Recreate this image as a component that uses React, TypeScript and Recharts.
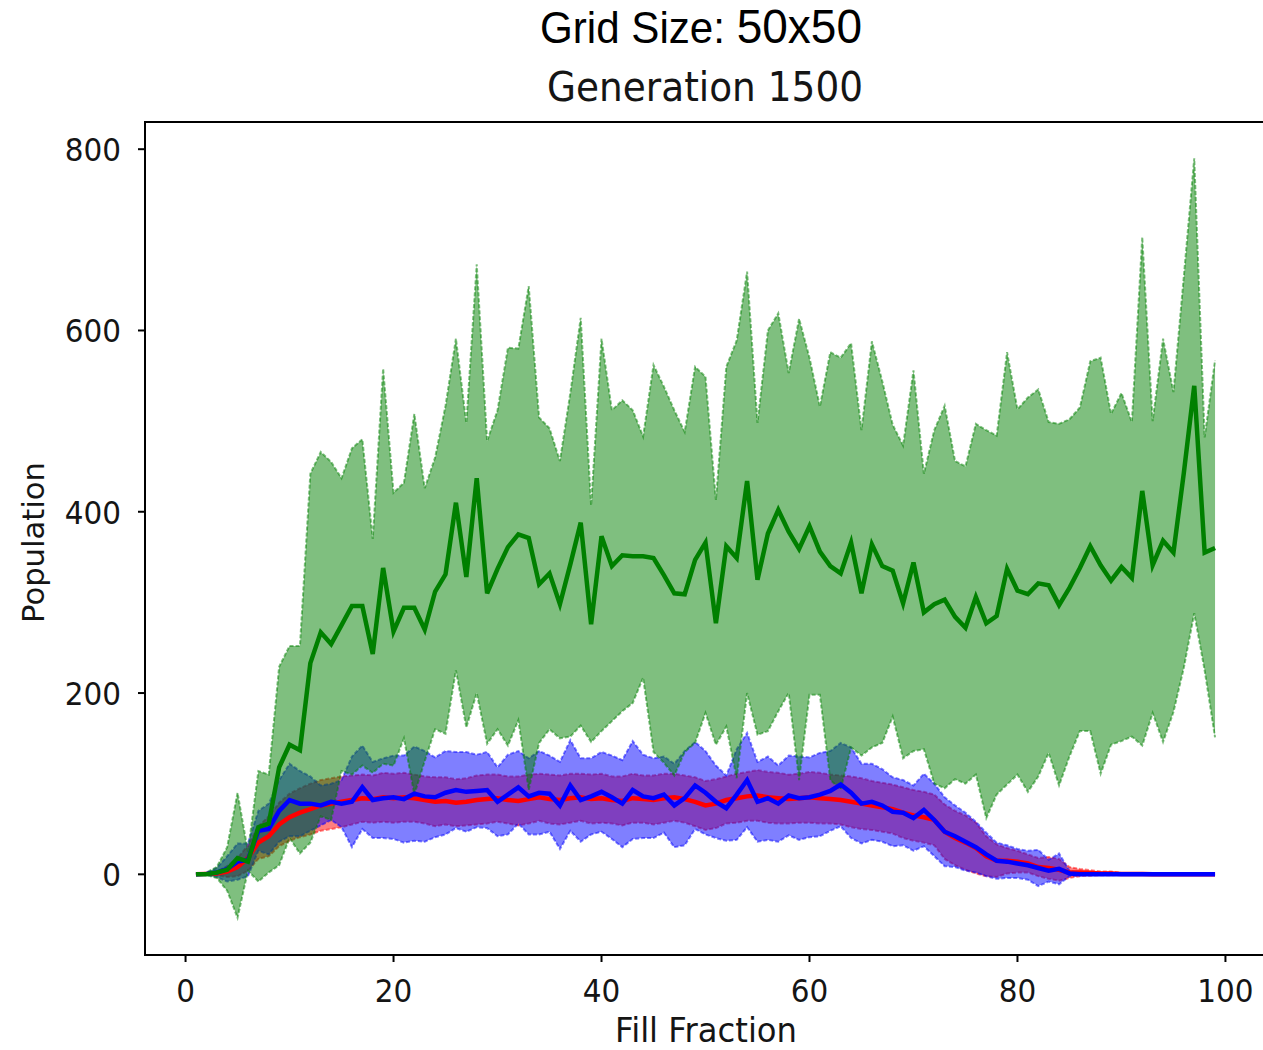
import React from 'react';
import { ComposedChart, Area, Line, XAxis, YAxis, ReferenceArea } from 'recharts';

// fill fraction (x) values
const FILL_FRACTION = [
  1, 2, 3, 4, 5, 6, 7, 8, 9, 10, 11, 12, 13, 14, 15, 16, 17, 18, 19, 20,
  21, 22, 23, 24, 25, 26, 27, 28, 29, 30, 31, 32, 33, 34, 35, 36, 37, 38, 39, 40,
  41, 42, 43, 44, 45, 46, 47, 48, 49, 50, 51, 52, 53, 54, 55, 56, 57, 58, 59, 60,
  61, 62, 63, 64, 65, 66, 67, 68, 69, 70, 71, 72, 73, 74, 75, 76, 77, 78, 79, 80,
  81, 82, 83, 84, 85, 86, 87, 88, 89, 90, 91, 92, 93, 94, 95, 96, 97, 98, 99,
];

const GREEN_MEAN = [
  0, 0, 2, 5, 18, 14, 52, 56, 118, 143,
  137, 233, 267, 254, 275, 296, 296, 243, 338, 268,
  294, 294, 270, 312, 331, 410, 328, 437, 310, 337,
  361, 375, 371, 320, 332, 298, 342, 388, 276, 373,
  340, 352, 351, 351, 349, 330, 310, 309, 347, 366,
  277, 362, 349, 434, 325, 376, 402, 378, 359, 384,
  356, 340, 332, 366, 310, 364, 340, 335, 299, 344,
  289, 298, 303, 284, 272, 306, 277, 285, 337, 313,
  309, 321, 319, 297, 316, 338, 362, 341, 324, 339,
  327, 423, 341, 368, 355, 443, 539, 355, 360,
];

const GREEN_UPPER = [
  0, 2, 8, 30, 90, 25, 114, 110, 229, 252,
  252, 442, 466, 455, 437, 470, 480, 370, 558, 421,
  432, 508, 426, 460, 517, 591, 498, 673, 478, 512,
  581, 580, 649, 504, 492, 456, 531, 614, 407, 591,
  512, 523, 512, 483, 562, 538, 512, 488, 560, 549,
  413, 560, 589, 665, 498, 600, 619, 553, 613, 570,
  516, 576, 570, 586, 490, 588, 544, 496, 473, 556,
  442, 490, 517, 456, 450, 497, 490, 484, 576, 513,
  526, 535, 499, 497, 502, 515, 566, 570, 508, 531,
  499, 703, 500, 591, 532, 660, 790, 482, 567,
];

const GREEN_LOWER = [
  0, -1, -4, -18, -48, 4, -8, 2, 10, 40,
  23, 35, 64, 60, 114, 110, 120, 112, 122, 120,
  150, 88, 125, 160, 155, 225, 162, 200, 144, 160,
  142, 170, 93, 145, 160, 150, 152, 164, 146, 158,
  169, 180, 189, 217, 135, 123, 109, 135, 145, 178,
  143, 163, 106, 200, 154, 158, 180, 200, 104, 198,
  198, 104, 94, 140, 131, 140, 145, 174, 128, 136,
  138, 100, 95, 105, 100, 110, 62, 88, 99, 110,
  91, 108, 134, 98, 130, 158, 158, 111, 143, 147,
  152, 142, 178, 146, 179, 228, 288, 225, 151,
];

const RED_MEAN = [
  0, 0.5, 1, 3, 8, 18, 35, 42, 55, 63,
  68, 72, 76, 78, 80, 82, 84, 83, 85, 84,
  85, 84, 82, 80, 81, 79, 80, 82, 83, 84,
  82, 81, 83, 85, 83, 82, 84, 85, 83, 84,
  82, 81, 84, 83, 82, 84, 85, 83, 80, 76,
  78, 82, 84, 86, 87, 85, 84, 83, 84, 85,
  84, 83, 82, 80, 78, 76, 74, 72, 68, 65,
  63, 60, 47, 40, 35, 29, 20, 15, 15, 14,
  12, 8, 7, 5, 2, 2, 1.5, 1, 1, 0.5,
  0.5, 0.3, 0, 0, 0, 0, 0, 0, 0,
];

const RED_STD = [
  0, 1, 2, 6, 10, 14, 18, 22, 24, 26,
  27, 28, 28, 28, 28, 27, 26, 26, 27, 27,
  27, 26, 26, 27, 26, 26, 26, 27, 27, 26,
  26, 27, 27, 26, 27, 27, 27, 26, 27, 27,
  26, 27, 27, 26, 27, 27, 26, 26, 27, 27,
  27, 26, 27, 27, 28, 28, 28, 27, 27, 28,
  28, 27, 27, 28, 28, 27, 27, 27, 28, 28,
  28, 28, 30, 30, 30, 28, 22, 18, 14, 12,
  10, 10, 12, 12, 6, 4, 3, 2, 2, 1,
  1, 1, 0, 0, 0, 0, 0, 0, 0,
];

const BLUE_MEAN = [
  0, 0.5, 2, 6, 14, 16, 48, 50, 70, 82,
  78, 78, 76, 80, 78, 80, 96, 82, 84, 85,
  83, 89, 86, 85, 90, 93, 91, 92, 93, 80,
  88, 96, 86, 90, 89, 76, 98, 82, 86, 91,
  85, 78, 93, 86, 84, 88, 76, 84, 98, 90,
  80, 73, 88, 104, 80, 84, 78, 87, 84, 85,
  88, 92, 99, 90, 78, 80, 76, 69, 68, 62,
  71, 60, 47, 42, 36, 30, 22, 15, 14, 12,
  10, 7, 4, 6, 1, 0, 0, 0, 0, 0,
  0, 0, 0, 0, 0, 0, 0, 0, 0,
];

const BLUE_STD = [
  0, 1, 5, 14, 20, 18, 22, 28, 34, 40,
  36, 30, 22, 20, 26, 50, 46, 42, 44, 46,
  48, 52, 50, 44, 46, 42, 44, 40, 42, 38,
  44, 40, 42, 46, 42, 48, 50, 46, 42, 44,
  46, 48, 54, 46, 44, 42, 46, 52, 48, 46,
  40, 36, 50, 52, 44, 46, 42, 44, 46, 44,
  46, 44, 46, 50, 44, 42, 40, 38, 36, 36,
  40, 40, 38, 34, 32, 28, 24, 20, 18, 16,
  16, 20, 12, 17, 3, 1, 0, 0, 0, 0,
  0, 0, 0, 0, 0, 0, 0, 0, 0,
];

const X_TICKS = [0, 20, 40, 60, 80, 100];
const Y_TICKS = [0, 200, 400, 600, 800];
const X_DOMAIN: [number, number] = [-3.9, 103.9];
const Y_DOMAIN: [number, number] = [-89, 830];

const TEXT = '#151515';
const FONT = "'DejaVu Sans', sans-serif";
const STRETCH = 1.1;

const rows = FILL_FRACTION.map((x, i) => ({
  x,
  gm: GREEN_MEAN[i],
  gBand: [GREEN_LOWER[i], GREEN_UPPER[i]],
  rm: RED_MEAN[i],
  rBand: [RED_MEAN[i] - RED_STD[i], RED_MEAN[i] + RED_STD[i]],
  bm: BLUE_MEAN[i],
  bBand: [BLUE_MEAN[i] - BLUE_STD[i], BLUE_MEAN[i] + BLUE_STD[i]],
}));

function XTick(props: any) {
  const { x, y, payload } = props;
  return (
    <text
      transform={`translate(${x} ${y}) scale(1 ${STRETCH})`}
      x={0}
      y={21.5}
      textAnchor="middle"
      fontFamily={FONT}
      fontSize={29.5}
      fill={TEXT}
    >
      {payload.value}
    </text>
  );
}

function YTick(props: any) {
  const { x, y, payload } = props;
  return (
    <text
      transform={`translate(${x} ${y}) scale(1 ${STRETCH})`}
      x={0}
      y={10.8}
      textAnchor="end"
      fontFamily={FONT}
      fontSize={29.5}
      fill={TEXT}
    >
      {payload.value}
    </text>
  );
}

const band = (key: string, color: string) => (
  <Area
    type="linear"
    dataKey={key}
    stroke={color}
    strokeOpacity={0.5}
    strokeWidth={2}
    strokeDasharray="4 2"
    fill={color}
    fillOpacity={0.5}
    dot={false}
    activeDot={false}
    isAnimationActive={false}
  />
);

const meanLine = (key: string, color: string) => (
  <Line
    type="linear"
    dataKey={key}
    stroke={color}
    strokeWidth={4.5}
    dot={false}
    activeDot={false}
    isAnimationActive={false}
  />
);

export default function App() {
  return (
    <div style={{ position: 'absolute', left: 0, top: 0, width: 1263, height: 1050, overflow: 'hidden', background: '#fff' }}>
      <div style={{ position: 'absolute', left: 0, top: 0 }}>
        <ComposedChart width={1280} height={1050} data={rows} margin={{ top: 122, right: 14, bottom: 0, left: 45 }}>
          <XAxis
            dataKey="x"
            type="number"
            domain={X_DOMAIN}
            ticks={X_TICKS}
            allowDataOverflow
            interval={0}
            height={95}
            tickSize={7}
            tickMargin={16}
            axisLine={false}
            tickLine={{ stroke: '#000', strokeWidth: 2 }}
            tick={XTick}
          />
          <YAxis
            type="number"
            domain={Y_DOMAIN}
            ticks={Y_TICKS}
            allowDataOverflow
            interval={0}
            width={100}
            tickSize={7}
            tickMargin={17}
            axisLine={false}
            tickLine={{ stroke: '#000', strokeWidth: 2 }}
            tick={YTick}
          />
          {band('rBand', '#ff0000')}
          {band('bBand', '#0000ff')}
          {band('gBand', '#008000')}
          {meanLine('rm', '#ff0000')}
          {meanLine('bm', '#0000ff')}
          {meanLine('gm', '#008000')}
          <ReferenceArea
            x1={X_DOMAIN[0]}
            x2={X_DOMAIN[1]}
            y1={Y_DOMAIN[0]}
            y2={Y_DOMAIN[1]}
            fill="none"
            stroke="#000"
            strokeWidth={2}
            ifOverflow="visible"
          />
        </ComposedChart>
      </div>
      <svg width={1263} height={1050} style={{ position: 'absolute', left: 0, top: 0, pointerEvents: 'none' }}>
        <text
          x={701}
          y={43}
          textAnchor="middle"
          fontFamily="'Liberation Sans Narrow', 'Liberation Sans', Arial, sans-serif"
          fontSize={44}
          textLength={322}
          lengthAdjust="spacingAndGlyphs"
          fill="#000"
        >
          Grid Size: <tspan fontSize={48}>50x50</tspan>
        </text>
        <text
          transform="translate(705 101) scale(1 1.09)"
          textAnchor="middle"
          fontFamily={FONT}
          fontSize={37.5}
          textLength={316}
          lengthAdjust="spacingAndGlyphs"
          fill={TEXT}
        >
          Generation 1500
        </text>
        <text
          transform={`translate(706 1042) scale(1 1.05)`}
          textAnchor="middle"
          fontFamily={FONT}
          fontSize={32}
          textLength={182}
          lengthAdjust="spacingAndGlyphs"
          fill={TEXT}
        >
          Fill Fraction
        </text>
        <text
          transform="translate(44 542.5) rotate(-90)"
          textAnchor="middle"
          fontFamily={FONT}
          fontSize={30.5}
          textLength={161}
          lengthAdjust="spacingAndGlyphs"
          fill={TEXT}
        >
          Population
        </text>
      </svg>
    </div>
  );
}
